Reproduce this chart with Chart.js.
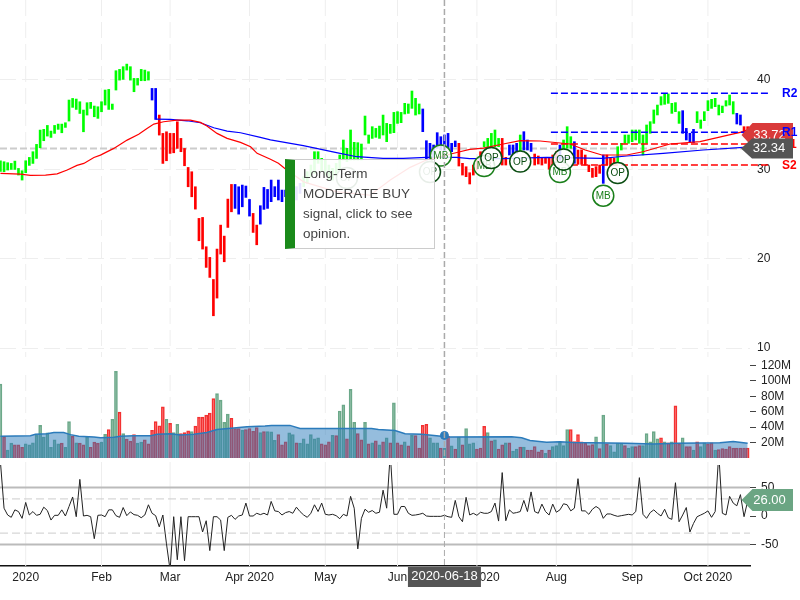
<!DOCTYPE html>
<html>
<head>
<meta charset="utf-8">
<title>Stock chart</title>
<script src="https://cdn.jsdelivr.net/npm/chart.js@4"></script>
<style>
  html, body { margin: 0; padding: 0; background: #fff; }
  #wrap { position: relative; width: 800px; height: 600px; overflow: hidden; }
  #tip {
    position: absolute; left: 285px; top: 159px; width: 150px; height: 90px; box-sizing: border-box;
    background: rgba(255,255,255,0.9); border: 1px solid #ccc; border-left: 10px solid #1a8a1a;
    font: 13.5px/20px "Liberation Sans", Arial, sans-serif; color: #444; padding: 4px 6px 0 8px;
  }
</style>
</head>
<body>
<div id="wrap">
  <canvas id="stock" width="800" height="600"></canvas>
  <div id="tip">Long-Term MODERATE BUY signal, click to see opinion.</div>
</div>
<script>
// one entry per trading day
const priceHigh = [
  30.96,30.85,30.74,30.66,30.92,30.10,29.84,30.96,31.33,31.97,
  32.79,34.39,34.47,34.91,34.28,34.91,35.06,35.06,35.21,37.75,
  37.93,37.86,37.56,36.63,37.45,37.49,37.08,37.00,37.56,38.87,
  38.94,37.30,41.03,41.18,41.48,41.77,41.48,40.17,40.17,41.18,
  41.10,40.92,39.05,39.05,36.07,34.02,34.20,34.02,34.02,35.32,
  33.46,32.34,30.21,29.73,28.05,24.51,24.62,21.34,20.15,17.68,
  21.08,23.76,22.53,26.67,28.31,28.31,28.05,28.24,28.13,26.63,
  25.07,23.76,25.93,27.98,27.75,28.80,28.06,28.80,27.68,27.68,
  28.43,28.62,28.06,28.43,29.18,29.74,30.48,31.97,31.97,31.23,
  31.04,30.48,30.11,30.67,31.60,33.28,32.35,34.40,33.02,32.98,
  32.83,35.96,33.84,34.77,34.58,34.84,36.07,35.14,35.03,36.37,
  36.45,36.37,37.38,37.31,38.76,37.94,37.31,36.75,33.20,32.91,
  32.72,34.10,33.65,33.84,34.02,32.91,33.17,32.91,30.67,30.29,
  29.62,30.48,31.04,31.97,33.09,33.46,34.02,34.40,33.46,33.46,
  31.34,32.72,32.72,32.91,33.84,34.21,33.28,32.91,31.71,31.49,
  31.34,31.23,31.23,31.60,31.97,32.72,33.28,34.77,33.65,33.09,
  32.16,32.16,31.60,30.48,30.11,30.30,30.48,31.60,31.60,31.23,
  31.23,32.53,32.91,33.84,33.84,34.40,34.40,34.40,33.84,34.96,
  35.33,36.64,37.19,38.13,38.43,38.43,37.38,37.46,36.45,36.56,
  34.58,34.03,34.47,36.45,35.52,36.45,37.68,37.83,37.94,37.19,
  37.08,37.68,38.31,37.57,36.26,36.08,34.77,34.77
];
const priceLow = [
  29.77,29.73,29.92,29.99,29.99,29.36,28.80,29.62,30.44,30.66,
  31.22,32.41,33.20,33.72,33.57,34.02,34.47,34.09,34.69,35.40,
  36.93,36.70,36.25,34.20,36.07,36.81,35.88,35.70,36.44,37.19,
  36.70,36.70,38.87,39.98,40.06,41.10,39.98,38.68,39.42,39.91,
  39.91,39.98,37.75,35.58,33.83,30.66,30.96,31.78,31.85,32.34,
  31.97,30.40,28.05,26.93,25.55,22.01,21.08,19.03,17.91,13.62,
  15.60,20.52,19.66,23.50,25.25,25.63,24.99,25.81,26.86,24.77,
  22.94,21.56,23.87,25.52,25.63,26.38,26.94,26.57,26.38,26.94,
  26.57,26.94,26.57,27.31,28.06,28.43,29.18,29.55,30.67,29.74,
  29.36,28.80,28.80,29.36,29.92,31.04,30.85,31.04,31.04,31.04,
  31.04,33.84,32.91,33.46,33.58,33.46,33.84,33.09,34.02,34.10,
  35.14,35.22,36.19,36.26,36.82,36.07,36.19,34.21,31.04,31.23,
  31.41,32.35,32.16,31.97,32.35,31.97,32.53,30.37,29.36,29.18,
  28.36,29.36,29.92,30.67,32.53,32.53,32.35,32.53,32.53,30.48,
  30.48,31.60,31.60,31.79,31.97,32.16,32.16,32.00,30.48,30.59,
  30.48,30.67,30.00,30.48,31.04,31.04,32.16,32.35,32.35,30.67,
  30.56,30.56,30.48,29.74,29.10,29.18,29.55,28.43,30.48,30.30,
  30.48,30.86,32.16,32.91,32.91,33.09,33.28,32.91,31.60,32.91,
  34.03,35.14,36.08,37.19,37.27,37.38,36.26,36.45,35.14,34.03,
  33.28,32.98,32.98,35.22,34.58,35.44,36.56,36.82,37.01,36.08,
  36.34,37.08,37.19,36.19,35.07,34.96,34.03,33.46
];
// u = up, d = down, n = neutral
const barTrend = (
  "uuuuuuuuuuuuuuuuuuuuuuuuuuuuuuuuuuuuuuuuuu" + "nn" + "ddddddddddddddddddddd" + "nnnnn" + "dd" +
  "nnnnnnnnnnnn" + "uuuuuuuuuuuuuuuuuuuuuuuuuuuuuuuuu" + "nnnnnnnnnn" + "ddddddd" + "uuuuu" + "dd" +
  "nnn" + "u" + "nnn" + "ddddddd" + "n" + "uuu" + "n" + "ddddddd" + "n" + "ddd" +
  "uuuuuuuuuuuuuuuuuu" + "nnnn" + "uuuuuuuuuuu" + "nn" + "dd"
).split("");

// volume in millions
const volume = [
  96,28,10.3,19.2,17,17,13.9,18.3,17,19.7,
  29.4,42.3,27.2,32.5,13.9,23.6,18.3,19.2,13.9,47.2,
  28,19.7,19.2,17,27.2,13.9,20.5,19.2,20.5,30.7,
  37,50.3,112.5,59.6,31.6,24.5,21.9,30.3,19.2,20.5,
  23.6,18.3,36,47.2,41.9,66.3,50.3,45,33,43.6,
  31.6,33,35.2,34.3,41.4,53,53,55.6,58.3,77,
  83.6,75.2,46.3,57,51.6,38.3,38.3,36,37,38.3,
  34.7,39.6,33,34.3,34.3,33.9,22.8,30.3,17,21,
  32.5,30.3,19.7,19.2,24.9,18.3,30.3,24.9,26.3,18.3,
  17,21,29.4,29,61,69,24.9,89,46.3,31.6,
  23.6,46.3,18.3,19.7,22.3,17,21,26.3,19.7,71.6,
  19.7,17,21,15.7,29.4,29,13,42.3,43.6,26.3,
  19.7,19.7,13,13,28.5,15.7,11.7,27.2,17,38.3,
  18.3,19.7,11.7,13,41,33,22.3,23.6,11.7,17,
  19.7,19.7,9,11.7,14.3,14.3,10.3,10.3,14.8,8.1,
  10.3,5.9,10.3,14.8,16.1,20.5,16.1,37,37,21.4,
  30.3,21,19.2,16.1,17.4,27.6,12.1,55.6,18.3,16.1,
  8.1,19.2,19.2,16.1,13,14.8,14.8,16.1,16.1,31.6,
  21,34.3,24.9,26.3,21,19.7,21,67.6,18.3,26.3,
  14.8,14.8,10.3,21,14.8,19.7,18.3,19.7,10.3,10.8,
  12.1,11.7,14.8,13,13,13,13,13
];
// g = up day, r = down day
const volumeSide = (
  "grggrrrggg" + "gggggggrgg" + "rgrrgrrrgg" + "rggrgrrrgg" + "rrrrrrgrgg" +
  "rrrgrrrrrr" + "ggggrrrgrr" + "rrgrgggrrr" + "ggrggggggr" + "rrgrggrggr" +
  "rgrgrgrgrg" + "rrgrgrrrrg" + "ggrgrgrgrg" + "ggrrrgrgrr" + "grggrgrrrr" +
  "rgrgggggrr" + "rrrrrgrgrg" + "gggrggrrgg" + "gggrgrgrrg" + "rrgrggrrgr" +
  "rrrrrrrr"
).split("");
// trend line of the volume pane, [day, millions]
const volumeAvg = [
  [0,28.1],[8.3,29],[9.7,30.8],[12.9,31.6],[14.8,33],[17.5,33],[19.4,30.3],[21.7,28.1],[25.9,27.2],[27.7,26.3],
  [31.4,26.8],[33.2,28.1],[36.9,29],[41.6,29],[43.4,30.8],[47.1,31.6],[49.9,29.9],[53.6,30.8],[57.2,33],[60,37],
  [64.6,38.8],[68.3,40.5],[73.3,41.4],[75.1,42.3],[80.2,42.3],[83,38.3],[102.8,38.3],[104.7,37],[109.3,35.6],[112.1,31.6],
  [116.7,30.8],[120.8,29],[124.1,27.2],[141.6,27.6],[144.4,26.3],[146.7,22.8],[151.3,20.5],[155,21],[158.7,20.1],[173.5,19.2],
  [180.9,18.3],[187.3,19.2],[199.3,19.7],[203,21.4],[207,19.2]
];

// lower pane oscillator
const oscillator = [
  95,13.7,1.8,-2.3,10.8,7.8,-4.1,23.8,1.8,7.8,
  1.2,3,15.5,9.6,-7.1,1.2,1.2,10.8,0,16.7,
  33.4,-1.2,64.3,0,1.2,-1.2,-39.8,1.2,1.8,-1.2,
  10.8,10.8,0.6,-2.3,14.9,0.6,7.2,2.4,1.2,-3,
  1.8,19.7,4.8,0.6,-19,1.8,-48.8,-95,-1.2,-76.7,
  -1.2,-78.5,-1.2,-1.2,-1.2,-1.2,-28,-8.3,-60.7,-1.2,
  -1.2,-7.1,-60.7,-2.3,1.2,-5.9,0,1.8,22.7,0,
  0,4.8,2.4,4.8,1.8,25.6,9,7.8,1.8,6,
  7.8,4.8,15.5,7.8,1.8,-2.3,4.8,19.7,7.8,22.7,
  3,1.8,3,0.6,-4.7,3,0,34.5,13.7,-57.7,
  -4.1,11.9,6.6,9.6,4.8,6.6,45.3,13.7,110,3,
  3,16.7,16.7,4.8,1.2,1.8,3,4.8,0,-0.6,
  -0.6,-0.6,-0.6,1.2,-1.2,-2.3,27.4,-1.2,-10,32.8,
  1.8,4.8,1.2,6.6,4.8,4.8,7.8,22.7,-8.9,76.2,
  -8.3,10.8,4.8,6,7.8,27.4,7.8,42.3,7.8,4.8,
  20.9,7.8,1.8,20.9,6.6,10.8,21.5,19.7,9,13.7,
  65.5,9,9,3,11.9,16.7,12.5,-4.1,3.6,3.6,
  1.2,-0.6,0.6,1.8,3,1.8,7.8,67.3,3,-4.1,
  6,10.8,4.8,0,11.9,-3,-5.9,58.4,-10,1.8,
  14.9,-28,-13,-1.2,1.8,4.8,9,-2.3,7.8,110,
  4.8,1.8,34.5,22.7,17.9,37.5,-1.2,26
];

// moving averages, [day, price]
const redAvg = [
  [0,29.54],[5.5,29.47],[8.3,29.32],[12.5,29.35],[15.7,29.5],[18.5,29.92],[21.2,30.44],[23.1,30.66],[25.9,31.33],[27.7,31.59],
  [31.4,32.34],[35.1,33.27],[38.3,33.93],[40.6,34.57],[42.5,35.06],[45.2,35.32],[48.9,35.51],[52.6,35.51],[55.4,35.25],[57.2,34.84],
  [60,34.02],[62.8,33.46],[66.5,33.01],[69.3,32.53],[71.1,31.79],[74.8,31.12],[77,30.67],[78.8,30.1],[84,28.6],[93,27.5],
  [102.4,27.1],[108,28.8],[113.5,30.22],[118,31.04],[127.3,31.97],[130,32.23],[133.8,32.38],[139.3,32.83],[144,33.2],[149.5,33.17],
  [157.8,32.83],[162,32.16],[166.6,31.6],[173.5,31.6],[178,31.97],[185.5,32.83],[193.8,33.09],[205.8,34.21],[206.7,34.4]
];
const blueAvg = [
  [43,35.62],[47.1,35.58],[51.7,35.43],[55.4,35.21],[59.1,34.65],[62.8,34.28],[66.5,34.09],[72,33.57],[74.8,33.3],[83.9,32.65],
  [93.1,31.86],[98.7,31.41],[106,31.23],[111.6,31.23],[118.1,31.34],[126.4,31.34],[130,31.19],[139.3,31.19],[151.3,31.34],[166.6,31.23],
  [173.5,31.49],[183.6,31.79],[194.7,32.16],[205.8,32.46]
];

// pivot levels on the right
const pivotNames = ["R2", "R1", "S1", "S2"];
const pivotValues = [38.5, 34.14, 32.83, 30.48];
const pivotDays = [152.5, 213.4];

// signal bubbles, [day, price]
const signalMB = [[122,31.54],[134,30.37],[155,29.7],[167,27.05]];
const signalOP = [[96,29.03],[119,29.7],[136,31.26],[144,30.87],[156,31.1],[171,29.58]];

const monthDays = [7, 28, 47, 69, 90, 110, 132, 154, 175, 196];
const monthLabels = ["2020", "Feb", "Mar", "Apr 2020", "May", "Jun", "Jul 2020", "Aug", "Sep", "Oct 2020"];
const priceTicks = [40, 30, 20, 10];
const volumeTicks = [20, 40, 60, 80, 100, 120];
const oscTicks = [50, 0, -50];
const oscBands = [50, -50];
const oscDashes = [30, -30];

const lastPrice = 32.34;
const redTagValue = 33.72;
const lastOsc = 26;
const crosshairDay = 123;
const crosshairDate = "2020-06-18";
const crosshairVolume = 29.3;

const FONT = '"Liberation Sans", Arial, sans-serif';
const days = priceHigh.map((_, i) => i);
const xy = (pairs) => pairs.map((p) => ({ x: p[0], y: p[1] }));
const trendColor = { u: "#00ff00", d: "#ff0000", n: "#0000ff" };

function hline(value, axis, color, width, dash, from, to, order) {
  return {
    type: "line", data: [{ x: from, y: value }, { x: to, y: value }], yAxisID: axis,
    borderColor: color, borderWidth: width, borderDash: dash || [], pointRadius: 0, order: order, clip: false
  };
}

function tag(ctx, text, left, right, top, bottom, color) {
  const mid = (top + bottom) / 2;
  ctx.fillStyle = color;
  ctx.beginPath();
  ctx.moveTo(left, mid);
  ctx.lineTo(left + 11, top);
  ctx.lineTo(right, top);
  ctx.lineTo(right, bottom);
  ctx.lineTo(left + 11, bottom);
  ctx.closePath();
  ctx.fill();
  ctx.fillStyle = "#fff";
  ctx.font = "13px " + FONT;
  ctx.textAlign = "center";
  ctx.textBaseline = "middle";
  ctx.fillText(text, left + 28, mid);
}

// no label overhang allowance, the plot fills the canvas up to the axes
function noOverhang(s) {
  s.paddingTop = 0;
  s.paddingBottom = 0;
  s.paddingLeft = 0;
  s.paddingRight = 0;
}

const paneExtras = {
  id: "paneExtras",
  afterLayout(chart) {
    // the two zero-width axes still need room for their labels
    chart.scales.yVol.right = chart.width;
    chart.scales.yOsc.right = chart.width;
  },
  beforeDatasetsDraw(chart) {
    const ctx = chart.ctx;
    const x = chart.scales.x;
    ctx.save();
    ctx.lineWidth = 1;
    ctx.strokeStyle = "#eee";
    monthDays.forEach((d) => {
      const px = x.getPixelForValue(d);
      [[0, 357, [16, 6]], [375, 457, [16, 6]], [462, 566, []]].forEach((s) => {
        ctx.setLineDash(s[2]);
        ctx.beginPath();
        ctx.moveTo(px, s[0]);
        ctx.lineTo(px, s[1]);
        ctx.stroke();
      });
    });
    ctx.restore();
  },
  afterDatasetDraw(chart, args) {
    const ds = chart.data.datasets[args.index];
    if (!ds.signalText) return;
    const ctx = chart.ctx;
    ctx.save();
    ctx.font = "10px " + FONT;
    ctx.textAlign = "center";
    ctx.textBaseline = "middle";
    ctx.fillStyle = ds.pointBorderColor;
    args.meta.data.forEach((pt) => ctx.fillText(ds.signalText, pt.x, pt.y + 0.5));
    ctx.restore();
  },
  afterDraw(chart) {
    const ctx = chart.ctx;
    const x = chart.scales.x;
    const y = chart.scales.y;
    const px = x.getPixelForValue(crosshairDay);
    ctx.save();
    // crosshair
    ctx.strokeStyle = "#aaa";
    ctx.setLineDash([6, 3]);
    ctx.lineWidth = 1.5;
    ctx.beginPath();
    ctx.moveTo(px, 0);
    ctx.lineTo(px, 460);
    ctx.stroke();
    ctx.lineWidth = 1;
    ctx.beginPath();
    ctx.moveTo(px, 460);
    ctx.lineTo(px, 566);
    ctx.stroke();
    ctx.setLineDash([]);

    ctx.fillStyle = "#555";
    ctx.fillRect(px - 36.5, 567, 73, 20);
    ctx.fillStyle = "#fff";
    ctx.font = "13px " + FONT;
    ctx.textAlign = "center";
    ctx.textBaseline = "middle";
    ctx.fillText(crosshairDate, px, 576);

    // last value tags
    tag(ctx, redTagValue.toFixed(2), 741.5, 793, 123, 147, "#d93a3a");
    ctx.font = "bold 12px " + FONT;
    ctx.textAlign = "left";
    ctx.textBaseline = "middle";
    pivotNames.forEach((name, i) => {
      ctx.fillStyle = name[0] === "R" ? "#0000ff" : "#ff0000";
      ctx.fillText(name, 782, y.getPixelForValue(pivotValues[i]) + 0.5);
    });
    tag(ctx, lastPrice.toFixed(2), 741, 793, 138.5, 158.5, "#555");
    tag(ctx, lastOsc.toFixed(2), 741.5, 793, 489, 511, "#6ba583");
    ctx.restore();
  }
};

const datasets = [
  hline(lastPrice, "y", "#ccc", 2, [7, 3], -0.12, 207.65, 20),
  {
    type: "bar", yAxisID: "yVol", grouped: false, order: 18, barThickness: 3, borderWidth: 1,
    data: days.map((d) => ({ x: d, y: volume[d] })),
    backgroundColor: volumeSide.map((s) => (s === "g" ? "rgba(108,169,138,0.45)" : "rgba(255,70,70,0.35)")),
    borderColor: volumeSide.map((s) => (s === "g" ? "#6ca98a" : "#f23030"))
  },
  {
    type: "line", yAxisID: "yVol", order: 16, data: xy(volumeAvg), fill: "origin", pointRadius: 0,
    borderColor: "#2b7bbb", borderWidth: 1.5, backgroundColor: "rgba(43,123,187,0.5)", tension: 0
  },
  {
    type: "line", yAxisID: "yVol", order: 15, data: [{ x: crosshairDay, y: crosshairVolume }],
    pointRadius: 4, pointBackgroundColor: "#2b7bbb", pointBorderColor: "#2b7bbb", showLine: false
  },
  {
    type: "bar", yAxisID: "y", grouped: false, order: 14, barThickness: 2,
    data: days.map((d) => ({ x: d, y: [priceLow[d], priceHigh[d]] })),
    backgroundColor: barTrend.map((t) => trendColor[t])
  },
  { type: "line", yAxisID: "y", order: 12, data: xy(blueAvg), pointRadius: 0, borderColor: "#0000ff", borderWidth: 1.2, tension: 0 },
  { type: "line", yAxisID: "y", order: 11, data: xy(redAvg), pointRadius: 0, borderColor: "#ff0000", borderWidth: 1.2, tension: 0 }
];
pivotValues.forEach((v, i) => {
  datasets.push(hline(v, "y", pivotNames[i][0] === "R" ? "#0000ff" : "#ff0000", 1.5, [7, 3], pivotDays[0], pivotDays[1], 10));
});
oscBands.forEach((v) => datasets.push(hline(v, "yOsc", "#bbb", 2, [], -0.12, 207.65, 9)));
oscDashes.forEach((v) => datasets.push(hline(v, "yOsc", "#ccc", 1, [8, 4], -0.12, 207.65, 9)));
datasets.push({
  type: "line", yAxisID: "yOsc", order: 8, pointRadius: 0, borderColor: "#222", borderWidth: 1, tension: 0,
  data: days.map((d) => ({ x: d, y: oscillator[d] })),
  clip: { left: 0, top: -465, right: 0, bottom: 0 }
});
datasets.push({
  type: "scatter", yAxisID: "y", order: 5, data: xy(signalMB), signalText: "MB",
  pointRadius: 10.5, pointBorderWidth: 1.5, pointBackgroundColor: "rgba(255,255,255,0.85)", pointBorderColor: "#1a7f1a"
});
datasets.push({
  type: "scatter", yAxisID: "y", order: 4, data: xy(signalOP), signalText: "OP",
  pointRadius: 10.5, pointBorderWidth: 1.5, pointBackgroundColor: "rgba(255,255,255,0.85)", pointBorderColor: "#0b4d12"
});

const sideTicks = { autoSkip: false, maxRotation: 0, color: "#222", font: { family: FONT, size: 12 } };

new Chart(document.getElementById("stock"), {
  type: "bar",
  data: { datasets },
  plugins: [paneExtras],
  options: {
    responsive: false,
    animation: false,
    layout: { autoPadding: false },
    plugins: { legend: { display: false }, tooltip: { enabled: false } },
    scales: {
      x: {
        type: "linear", min: -0.12, max: 207.65, position: "bottom", offset: false,
        grid: { display: false, offset: false, drawTicks: false },
        border: { color: "#111", width: 1.5 },
        ticks: {
          autoSkip: false, maxRotation: 0, color: "#222", padding: 4, font: { family: FONT, size: 12 },
          callback: (v) => monthLabels[monthDays.indexOf(v)]
        },
        afterBuildTicks: (s) => { s.ticks = monthDays.map((v) => ({ value: v })); },
        afterFit: (s) => { s.height = 34; noOverhang(s); }
      },
      // each y axis spans the whole plot so that its values land in their own pane
      y: {
        type: "linear", position: "right", weight: 2, min: -14.37, max: 48.94,
        grid: { color: "#eee", lineWidth: 1, drawTicks: false },
        border: { display: false, dash: [16, 6] },
        ticks: { ...sideTicks, padding: 7, callback: (v) => v },
        afterBuildTicks: (s) => { s.ticks = priceTicks.map((v) => ({ value: v })); },
        afterFit: (s) => { s.width = 50; noOverhang(s); }
      },
      yVol: {
        type: "linear", position: "right", weight: 0, min: -140.3, max: 594.8,
        grid: { drawOnChartArea: false, tickLength: 6, tickColor: "#444" },
        border: { display: false },
        ticks: { ...sideTicks, padding: 5, callback: (v) => v + "M" },
        afterBuildTicks: (s) => { s.ticks = volumeTicks.map((v) => ({ value: v })); },
        afterFit: (s) => { s.width = 0; noOverhang(s); }
      },
      yOsc: {
        type: "linear", position: "right", weight: 1, min: -87.7, max: 905.3,
        grid: { drawOnChartArea: false, tickLength: 6, tickColor: "#444" },
        border: { display: false },
        ticks: { ...sideTicks, padding: 5, callback: (v) => v },
        afterBuildTicks: (s) => { s.ticks = oscTicks.map((v) => ({ value: v })); },
        afterFit: (s) => { s.width = 0; noOverhang(s); }
      }
    }
  }
});
</script>
</body>
</html>
